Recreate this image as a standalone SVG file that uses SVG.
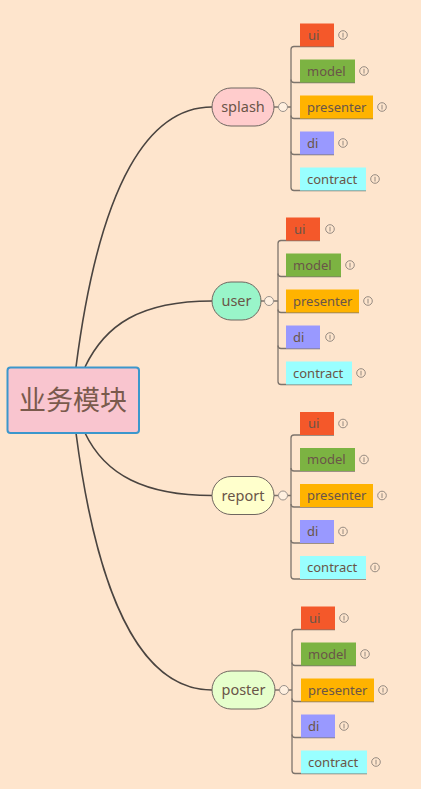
<svg xmlns="http://www.w3.org/2000/svg" width="421" height="789" viewBox="0 0 421 789">
<style>
.t{font-family:"Noto Sans","Noto Sans CJK SC",sans-serif;fill:#6a5548}
.leaf{font-size:13px}
.br{font-size:14.5px;text-anchor:middle}
.main{fill:none;stroke:#4a4440;stroke-width:1.6}
.sub{fill:none;stroke:#7d746c;stroke-width:1.3}
.pill{stroke:#6f6660;stroke-width:1}
.col{fill:#FFF0E0;stroke:#9a918a;stroke-width:1}
.info{fill:none;stroke:#8a8078;stroke-width:0.9}
.ui{fill:#F4582A}.model{fill:#7CB342}.presenter{fill:#FFB300}.di{fill:#9999FF}.contract{fill:#99FFFF}
</style>
<defs>
<g id="ic"><circle cx="0" cy="0" r="4.3" class="info"/><line x1="0" y1="-2.2" x2="0" y2="2.5" class="info"/></g>
</defs>
<rect width="421" height="789" fill="#FEE5CD"/>
<g id="connectors">
<path class="main" d="M76 367 C100 180 150 107 212 107"/>
<path class="main" d="M85 367 C105 325 140 301 212 301"/>
<path class="main" d="M85 433 C105 475 145 495.5 212 495.5"/>
<path class="main" d="M76 433 C100 618 150 690 212 690"/>
<path class="sub" d="M274 107 H278.5 M287.5 107 H291"/>
<path class="sub" d="M334 46.5 H294 Q291 46.5 291 49.5 V187.5 Q291 190.5 294 190.5 H366"/>
<path class="sub" d="M291 79.5 Q291 82.5 294 82.5 H355 M291 115.5 Q291 118.5 294 118.5 H373 M291 151.5 Q291 154.5 294 154.5 H334"/>
<path class="sub" d="M261 301 H264.5 M273.5 301 H278"/>
<path class="sub" d="M320 240.5 H281 Q278 240.5 278 243.5 V381.5 Q278 384.5 281 384.5 H352"/>
<path class="sub" d="M278 273.5 Q278 276.5 281 276.5 H341 M278 309.5 Q278 312.5 281 312.5 H359 M278 345.5 Q278 348.5 281 348.5 H320"/>
<path class="sub" d="M274 495.5 H278.5 M287.5 495.5 H291"/>
<path class="sub" d="M334 435 H294 Q291 435 291 438 V576 Q291 579 294 579 H366"/>
<path class="sub" d="M291 468 Q291 471 294 471 H355 M291 504 Q291 507 294 507 H373 M291 540 Q291 543 294 543 H334"/>
<path class="sub" d="M275 690 H279.5 M288.5 690 H292"/>
<path class="sub" d="M335 629.5 H295 Q292 629.5 292 632.5 V770.5 Q292 773.5 295 773.5 H367"/>
<path class="sub" d="M292 662.5 Q292 665.5 295 665.5 H356 M292 698.5 Q292 701.5 295 701.5 H374 M292 734.5 Q292 737.5 295 737.5 H335"/>
</g>
<g id="root">
<rect x="7.5" y="367.5" width="131.5" height="65.5" rx="3" fill="#F9C5CF" stroke="#3C97CC" stroke-width="2"/>
<text class="t" x="73" y="410" font-size="27" text-anchor="middle" style="fill:#7a5a4c">业务模块</text>
</g>
<g id="splash">
<rect class="pill" x="212" y="88" width="62" height="38" rx="19" fill="#FFCCCC"/>
<text class="t br" x="243" y="112">splash</text>
<circle class="col" cx="283" cy="107" r="4.5"/>
</g>
<g id="splash-ui"><rect class="ui" x="300" y="23.5" width="34" height="23"/><text class="t leaf" x="308" y="39.5">ui</text><use href="#ic" x="343" y="35"/></g>
<g id="splash-model"><rect class="model" x="300" y="59.5" width="55" height="23"/><text class="t leaf" x="307" y="75.5">model</text><use href="#ic" x="364" y="71"/></g>
<g id="splash-presenter"><rect class="presenter" x="300" y="95.5" width="73" height="23"/><text class="t leaf" x="307" y="111.5">presenter</text><use href="#ic" x="382" y="107"/></g>
<g id="splash-di"><rect class="di" x="300" y="131.5" width="34" height="23"/><text class="t leaf" x="307" y="147.5">di</text><use href="#ic" x="343" y="143"/></g>
<g id="splash-contract"><rect class="contract" x="300" y="167.5" width="66" height="23"/><text class="t leaf" x="307" y="183.5">contract</text><use href="#ic" x="375" y="179"/></g>
<g id="user">
<rect class="pill" x="212" y="282" width="49" height="38" rx="19" fill="#99F5C9"/>
<text class="t br" x="236.5" y="306">user</text>
<circle class="col" cx="269" cy="301" r="4.5"/>
</g>
<g id="user-ui"><rect class="ui" x="286" y="217.5" width="34" height="23"/><text class="t leaf" x="294" y="233.5">ui</text><use href="#ic" x="330" y="229"/></g>
<g id="user-model"><rect class="model" x="286" y="253.5" width="55" height="23"/><text class="t leaf" x="293" y="269.5">model</text><use href="#ic" x="350" y="265"/></g>
<g id="user-presenter"><rect class="presenter" x="286" y="289.5" width="73" height="23"/><text class="t leaf" x="293" y="305.5">presenter</text><use href="#ic" x="368" y="301"/></g>
<g id="user-di"><rect class="di" x="286" y="325.5" width="34" height="23"/><text class="t leaf" x="293" y="341.5">di</text><use href="#ic" x="330" y="337"/></g>
<g id="user-contract"><rect class="contract" x="286" y="361.5" width="66" height="23"/><text class="t leaf" x="293" y="377.5">contract</text><use href="#ic" x="361" y="373"/></g>
<g id="report">
<rect class="pill" x="212" y="476.5" width="62" height="38" rx="19" fill="#FFFFCC"/>
<text class="t br" x="243" y="500.5">report</text>
<circle class="col" cx="283" cy="495.5" r="4.5"/>
</g>
<g id="report-ui"><rect class="ui" x="300" y="412" width="34" height="23"/><text class="t leaf" x="308" y="428">ui</text><use href="#ic" x="343" y="423.5"/></g>
<g id="report-model"><rect class="model" x="300" y="448" width="55" height="23"/><text class="t leaf" x="307" y="464">model</text><use href="#ic" x="364" y="459.5"/></g>
<g id="report-presenter"><rect class="presenter" x="300" y="484" width="73" height="23"/><text class="t leaf" x="307" y="500">presenter</text><use href="#ic" x="382" y="495.5"/></g>
<g id="report-di"><rect class="di" x="300" y="520" width="34" height="23"/><text class="t leaf" x="307" y="536">di</text><use href="#ic" x="343" y="531.5"/></g>
<g id="report-contract"><rect class="contract" x="300" y="556" width="66" height="23"/><text class="t leaf" x="307" y="572">contract</text><use href="#ic" x="375" y="567.5"/></g>
<g id="poster">
<rect class="pill" x="212" y="671" width="63" height="38" rx="19" fill="#E6FFCC"/>
<text class="t br" x="243.5" y="695">poster</text>
<circle class="col" cx="284" cy="690" r="4.5"/>
</g>
<g id="poster-ui"><rect class="ui" x="301" y="606.5" width="34" height="23"/><text class="t leaf" x="309" y="622.5">ui</text><use href="#ic" x="344" y="618"/></g>
<g id="poster-model"><rect class="model" x="301" y="642.5" width="55" height="23"/><text class="t leaf" x="308" y="658.5">model</text><use href="#ic" x="365" y="654"/></g>
<g id="poster-presenter"><rect class="presenter" x="301" y="678.5" width="73" height="23"/><text class="t leaf" x="308" y="694.5">presenter</text><use href="#ic" x="383" y="690"/></g>
<g id="poster-di"><rect class="di" x="301" y="714.5" width="34" height="23"/><text class="t leaf" x="308" y="730.5">di</text><use href="#ic" x="344" y="726"/></g>
<g id="poster-contract"><rect class="contract" x="301" y="750.5" width="66" height="23"/><text class="t leaf" x="308" y="766.5">contract</text><use href="#ic" x="376" y="762"/></g>
</svg>
